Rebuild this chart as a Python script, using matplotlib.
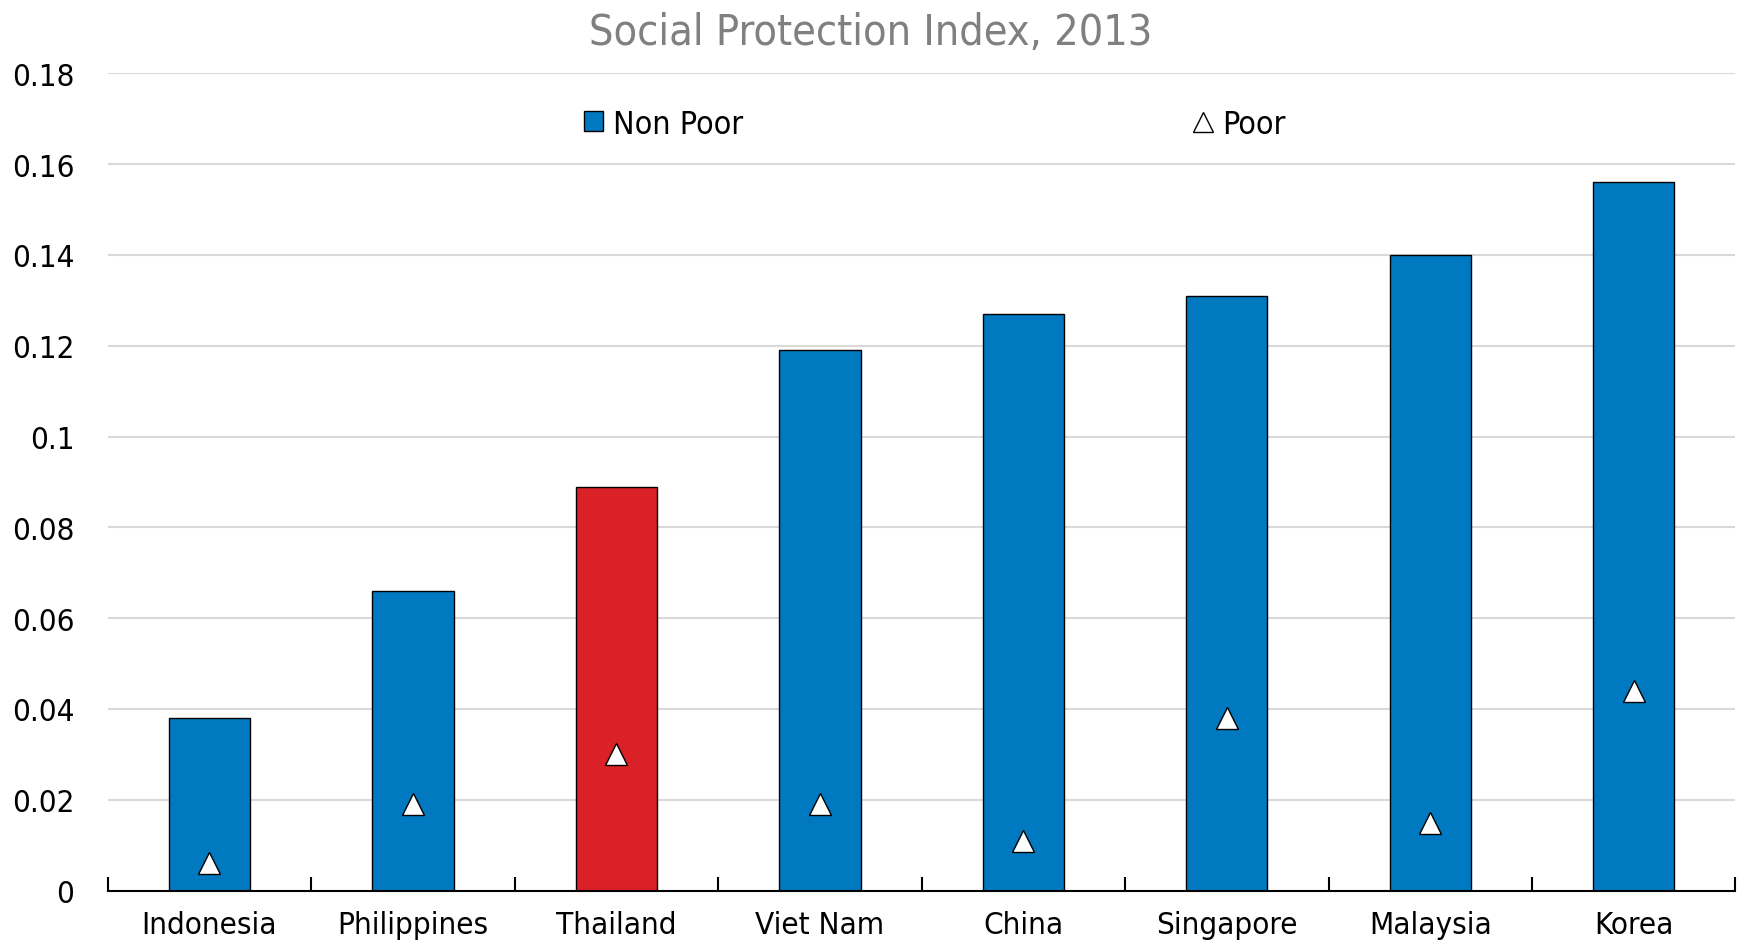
import matplotlib
matplotlib.use('Agg')
import matplotlib.pyplot as plt
from matplotlib.lines import Line2D
from matplotlib.patches import Patch
import numpy as np

plt.rcParams['font.family'] = ['DejaVu Sans']
plt.rcParams['font.stretch'] = 'condensed'

countries = ['Indonesia', 'Philippines', 'Thailand', 'Viet Nam', 'China',
             'Singapore', 'Malaysia', 'Korea']
non_poor = [0.038, 0.066, 0.089, 0.119, 0.127, 0.131, 0.140, 0.156]
poor = [0.006, 0.019, 0.030, 0.019, 0.011, 0.038, 0.015, 0.044]
yticks = [0, 0.02, 0.04, 0.06, 0.08, 0.1, 0.12, 0.14, 0.16, 0.18]
ytick_labels = ['0', '0.02', '0.04', '0.06', '0.08', '0.1', '0.12', '0.14', '0.16', '0.18']

blue = '#0079C1'
red = '#DA2128'
colors = [red if c == 'Thailand' else blue for c in countries]

fig = plt.figure(figsize=(17.41, 9.45), dpi=100)
ax = fig.add_axes([0.0619, 0.0565, 0.9349, 0.8648])

x = np.arange(len(countries))
ax.bar(x, non_poor, width=0.4, color=colors, edgecolor='black', linewidth=1, zorder=2)
ax.plot(x, poor, linestyle='none', marker='^', markersize=16,
        markerfacecolor='white', markeredgecolor='black', markeredgewidth=1, zorder=3)

ax.set_xlim(-0.5, len(countries) - 0.5)
ax.set_ylim(0, 0.18)
ax.set_yticks(yticks)
ax.set_yticklabels(ytick_labels)
ax.yaxis.grid(True, color='#D9D9D9', linewidth=1.5, zorder=0)
ax.set_axisbelow(True)

ax.set_xticks(x)
ax.set_xticklabels(countries)
ax.set_xticks(np.arange(len(countries) + 1) - 0.5, minor=True)
ax.tick_params(axis='x', which='major', length=0, pad=14, labelsize=22.5)
ax.tick_params(axis='x', which='minor', direction='in', length=10, width=1.5)
ax.tick_params(axis='y', length=0, pad=24, labelsize=22.5)

for s in ['top', 'right', 'left']:
    ax.spines[s].set_visible(False)
ax.spines['bottom'].set_linewidth(1.5)

# title is centred on the figure, not the axes
fig.text(0.5, 0.965, 'Social Protection Index, 2013', fontsize=31, color='#808080',
         ha='center', va='center')

handles = [Patch(facecolor=blue, edgecolor='black', linewidth=1),
           Line2D([], [], linestyle='none', marker='^', markersize=15,
                  markerfacecolor='white', markeredgecolor='black', markeredgewidth=1)]
ax.legend(handles, ['Non Poor', 'Poor'], ncol=2, frameon=False, fontsize=23,
          loc='center', bbox_to_anchor=(0.508, 0.938), columnspacing=14.1,
          handlelength=0.6, handletextpad=0.3, handleheight=0.6)

fig.savefig('out.png', dpi=100)
